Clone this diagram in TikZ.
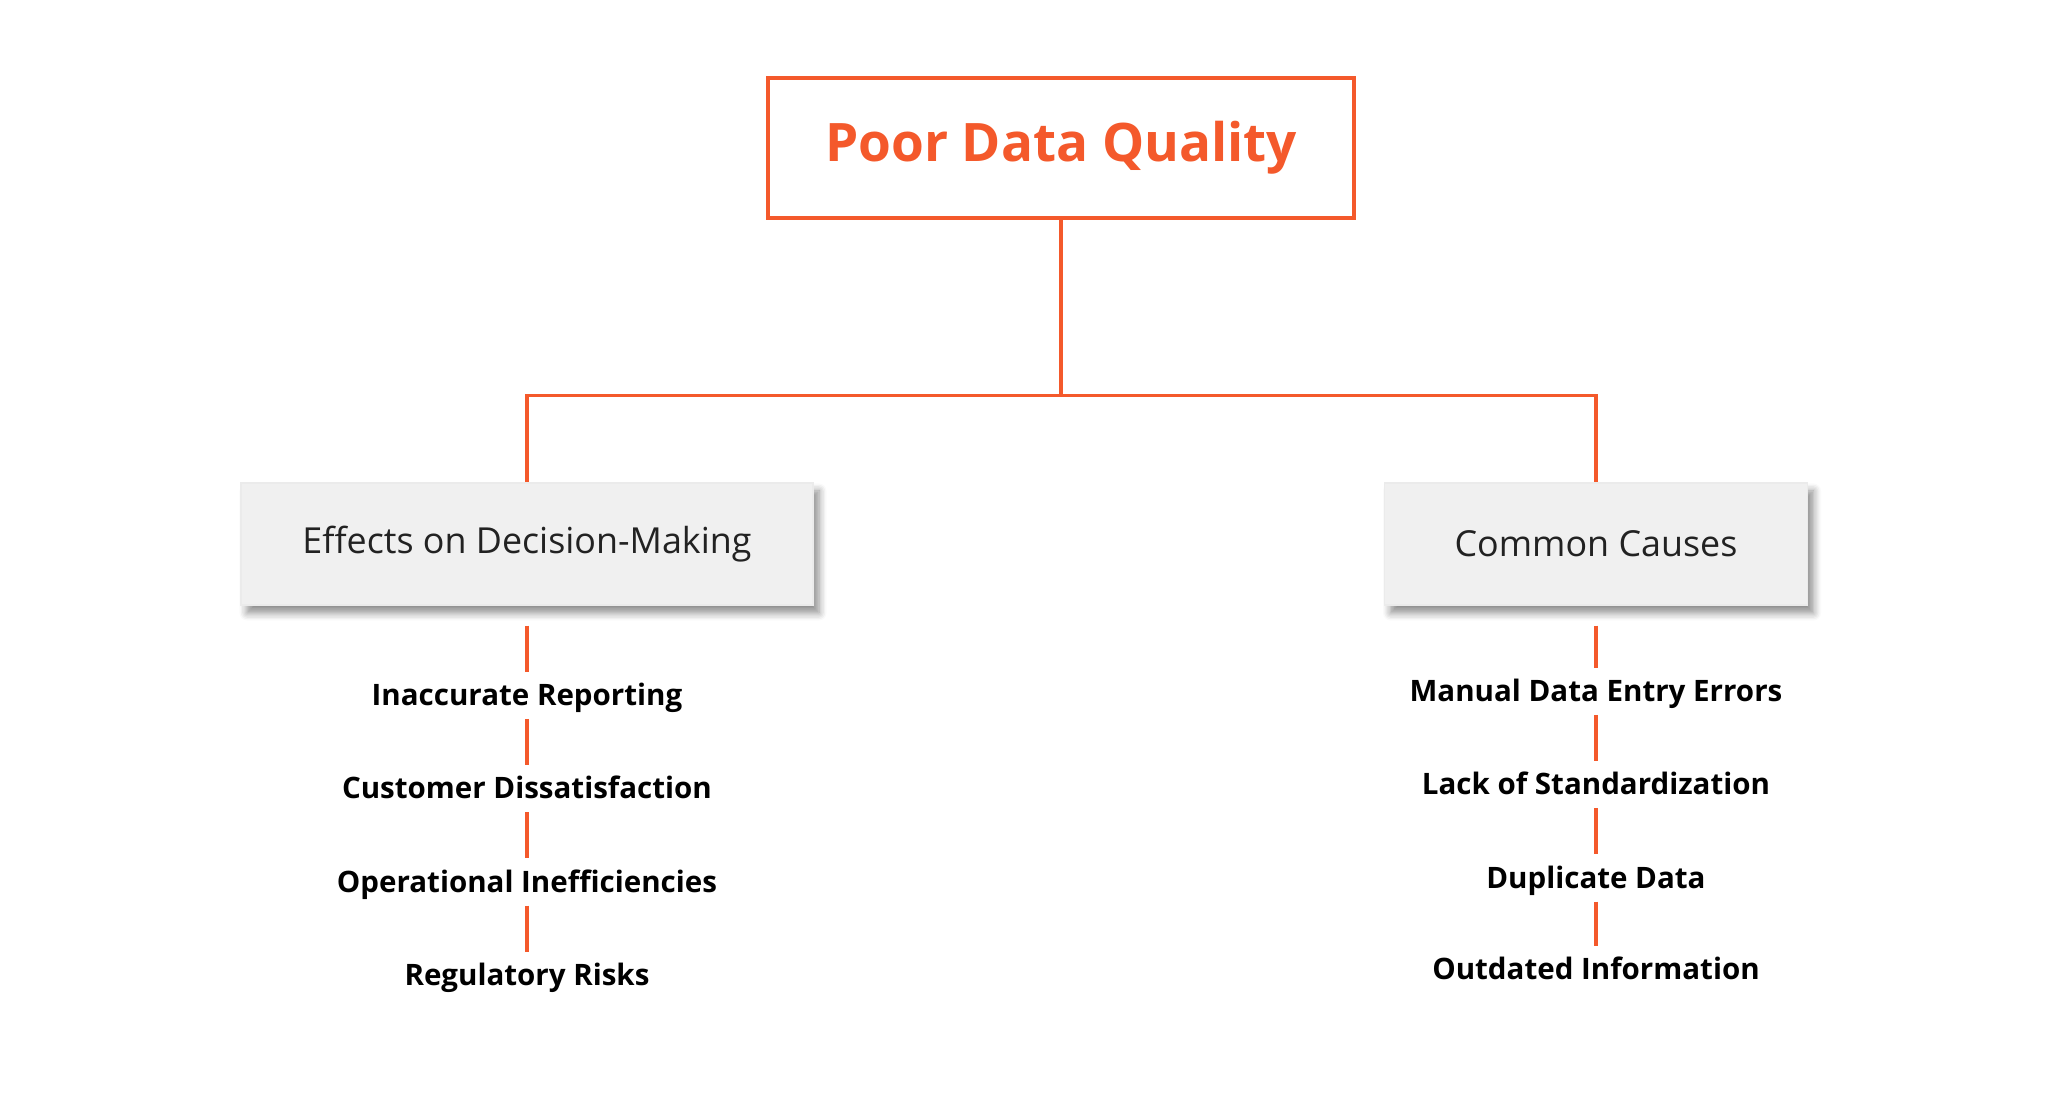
\documentclass[tikz,border=0pt]{standalone}
\usepackage{fontspec}
\setmainfont{Open Sans}
\usepackage{tikz}
\usetikzlibrary{calc}
\usetikzlibrary{positioning,shadows.blur}
\definecolor{dqorange}{HTML}{F4592B}
\definecolor{dqgray}{HTML}{F0F0F0}
\definecolor{dqtext}{HTML}{222222}
\tikzset{
    rootbox/.style={draw=dqorange, line width=0.9pt, fill=white,
        minimum width=5.86cm, minimum height=1.40cm, align=center,
        text=dqorange, font=\bfseries\fontsize{15.1}{18}\selectfont},
    branchbox/.style={fill=dqgray, draw=black!8, line width=0.3pt,
        minimum height=1.22cm, align=center, text=dqtext,
        font=\fontsize{10.2}{12}\selectfont,
        blur shadow={shadow xshift=0.6mm, shadow yshift=-0.8mm,
            shadow blur steps=6, shadow opacity=45}},
    item/.style={inner sep=0pt, text height=0.33cm, text depth=0.13cm,
        align=center, font=\bfseries\fontsize{8.4}{10}\selectfont},
    link/.style={draw=dqorange, line width=0.95pt}
}

\begin{document}
\begin{tikzpicture}[font=\small]
\useasboundingbox (0,0) rectangle (20.48,11.05);

% ===============================================================
% ==== Root ====
% ===============================================================
\node[rootbox] (root) at (10.61,9.57) {Poor Data Quality};

% ===============================================================
% ==== Branches ====
% ===============================================================
\node[branchbox, minimum width=5.72cm] (effects) at (5.27,5.61) {Effects on Decision-Making};
\node[branchbox, minimum width=4.23cm] (causes) at (15.96,5.61) {Common Causes};

% bus from root to branches
\coordinate (bus) at ([yshift=-1.76cm]root.south);
\draw[link] (root.south) -- (bus) -| (effects.north);
\draw[link] (bus) -| (causes.north);

% ===============================================================
% ==== Effects on Decision-Making ====
% ===============================================================
\node[item, below=0.66cm of effects] (inacc) {Inaccurate Reporting};
\node[item, below=0.46cm of inacc] (custdis) {Customer Dissatisfaction};
\node[item, below=0.46cm of custdis] (opineff) {Operational Inefficiencies};
\node[item, below=0.46cm of opineff] (regrisk) {Regulatory Risks};

\draw[link, shorten <=2mm] (effects.south) -- (inacc.north);
\draw[link] (inacc.south) -- (custdis.north);
\draw[link] (custdis.south) -- (opineff.north);
\draw[link] (opineff.south) -- (regrisk.north);

% ===============================================================
% ==== Common Causes ====
% ===============================================================
\node[item, below=0.62cm of causes] (manual) {Manual Data Entry Errors};
\node[item, below=0.46cm of manual] (nostd) {Lack of Standardization};
\node[item, below=0.46cm of nostd] (dupdata) {Duplicate Data};
\node[item, below=0.44cm of dupdata] (outdated) {Outdated Information};

\draw[link, shorten <=2mm] (causes.south) -- (manual.north);
\draw[link] (manual.south) -- (nostd.north);
\draw[link] (nostd.south) -- (dupdata.north);
\draw[link] (dupdata.south) -- (outdated.north);

\end{tikzpicture}
\end{document}
